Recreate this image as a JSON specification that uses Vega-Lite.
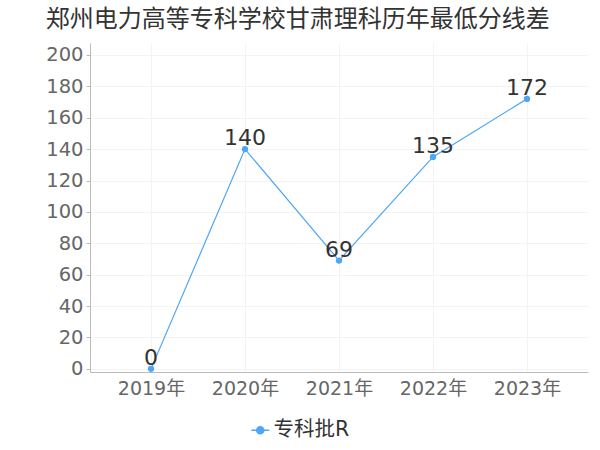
{
  "$schema": "https://vega.github.io/schema/vega-lite/v6.json",
  "autosize": "none",
  "width": 498,
  "height": 329,
  "padding": {"left": 90, "top": 43, "right": 12, "bottom": 78},
  "background": "#ffffff",
  "config": {
    "font": "DejaVu Sans, Noto Sans CJK SC",
    "view": {"stroke": null}
  },
  "title": {
    "text": "郑州电力高等专科学校甘肃理科历年最低分线差",
    "anchor": "start",
    "frame": "bounds",
    "fontSize": 24,
    "fontWeight": "normal",
    "color": "#333333",
    "offset": 11
  },
  "data": {
    "values": [
      {"year": "2019年", "value": 0, "series": "专科批R"},
      {"year": "2020年", "value": 140, "series": "专科批R"},
      {"year": "2021年", "value": 69, "series": "专科批R"},
      {"year": "2022年", "value": 135, "series": "专科批R"},
      {"year": "2023年", "value": 172, "series": "专科批R"}
    ]
  },
  "encoding": {
    "x": {
      "field": "year",
      "type": "ordinal",
      "scale": {"type": "point", "padding": 0.649},
      "axis": {
        "title": null,
        "labelAngle": 0,
        "labelFontSize": 19,
        "labelColor": "#666666",
        "labelPadding": 7,
        "ticks": false,
        "domainColor": "#bbbbbb",
        "grid": true,
        "gridColor": "#f3f3f3"
      }
    },
    "y": {
      "field": "value",
      "type": "quantitative",
      "scale": {"domain": [-2, 207.6], "nice": false, "zero": false},
      "axis": {
        "title": null,
        "values": [0, 20, 40, 60, 80, 100, 120, 140, 160, 180, 200],
        "labelFontSize": 19.5,
        "labelColor": "#666666",
        "labelPadding": 3,
        "tickSize": 4,
        "tickColor": "#bbbbbb",
        "domainColor": "#bbbbbb",
        "grid": true,
        "gridColor": "#f3f3f3"
      }
    }
  },
  "layer": [
    {
      "mark": {"type": "line", "color": "#4ea6f6", "strokeWidth": 1.2, "point": {"filled": true, "size": 40, "color": "#4ea6f6"}},
      "encoding": {
        "color": {
          "field": "series",
          "type": "nominal",
          "scale": {"range": ["#4ea6f6"]},
          "legend": {
            "title": null,
            "orient": "none",
            "legendX": 160,
            "legendY": 377,
            "labelFontSize": 20.5,
            "labelColor": "#333333",
            "labelOffset": 3,
            "symbolType": "M-1,0L1,0M0.4,0A0.4,0.4 0 1 1 -0.4,0A0.4,0.4 0 1 1 0.4,0Z",
            "symbolSize": 320,
            "symbolStrokeWidth": 1.5,
            "symbolFillColor": "#4ea6f6",
            "symbolStrokeColor": "#4ea6f6"
          }
        }
      }
    },
    {
      "mark": {"type": "text", "baseline": "alphabetic", "dy": -4, "fontSize": 22, "color": "#333333"},
      "encoding": {"text": {"field": "value", "type": "quantitative"}}
    }
  ]
}
